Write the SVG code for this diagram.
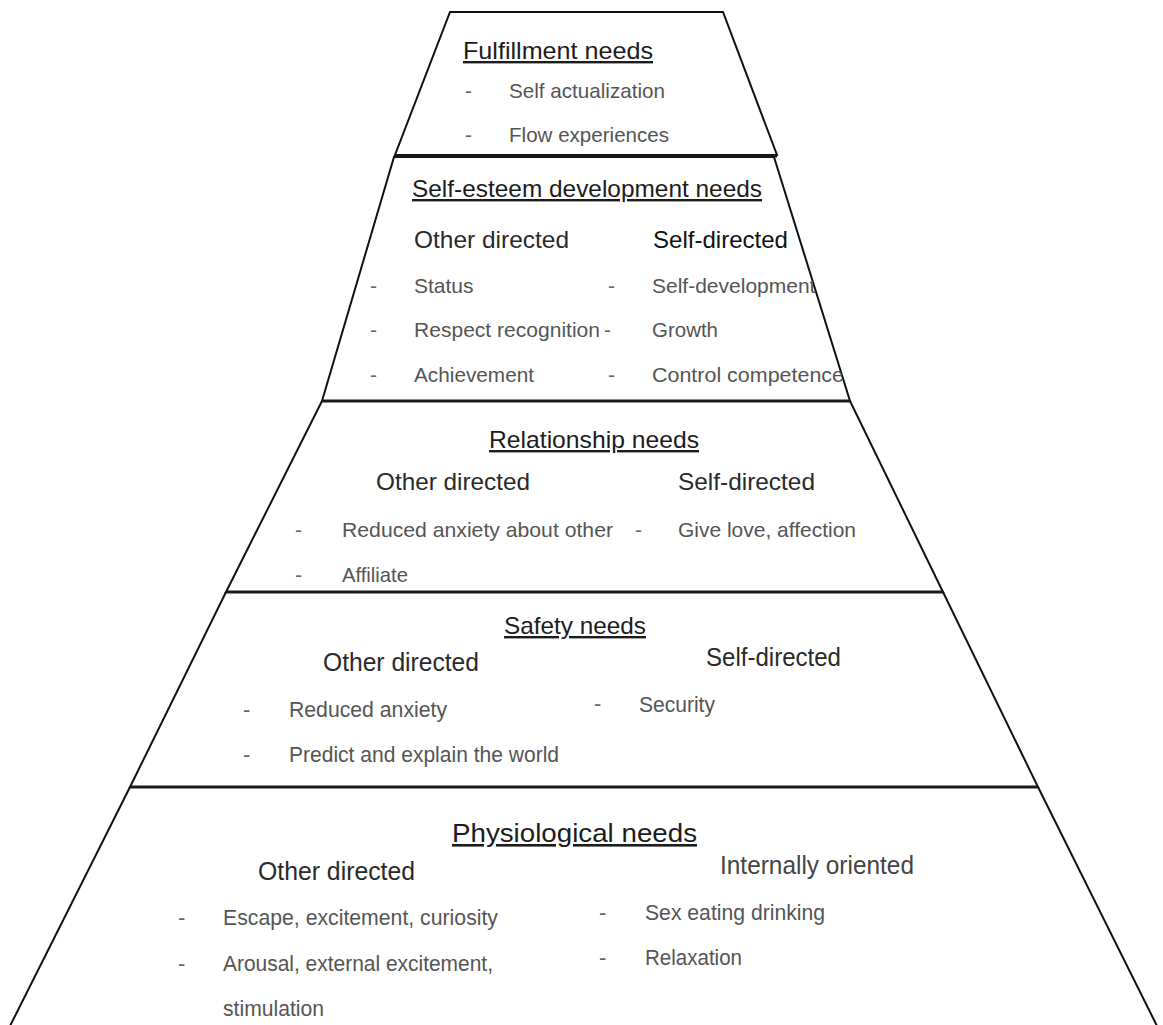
<svg xmlns="http://www.w3.org/2000/svg" width="1163" height="1025" viewBox="0 0 1163 1025">
  <style>
    text { font-family: "Liberation Sans", Arial, Helvetica, sans-serif; }
    .tier { fill: #fff; stroke: #111; stroke-width: 2; stroke-linejoin: miter; }
    .divider { stroke: #1a1a1a; stroke-width: 3; }
    .head { font-size: 24px; fill: #1c1c1c; text-decoration: underline; }
    .col { font-size: 24px; fill: #2a2a2a; }
    .col-dark { font-size: 24px; fill: #111; }
    .col-soft { font-size: 24px; fill: #444; }
    .item { font-size: 21px; fill: #555; }
    .dash { font-size: 21px; fill: #666; }
    .lower .col, .lower .col-dark, .lower .col-soft { font-size: 26px; }
    .lower .item, .lower .dash { font-size: 22px; }
  </style>
  <defs>
    <clipPath id="clip-esteem">
      <polygon points="394,157 774,157 850,401 322,401"/>
    </clipPath>
  </defs>

  <rect width="1163" height="1025" fill="#fff"/>

  <!-- Tier 1: fulfillment -->
  <g id="fulfillment">
    <polygon class="tier" points="450,12 723,12 777,155 395,155"/>
    <text class="head" x="463" y="59" textLength="190" lengthAdjust="spacingAndGlyphs">Fulfillment needs</text>
    <text class="dash" x="465" y="98">-</text>
    <text class="item" x="509" y="98" textLength="156" lengthAdjust="spacingAndGlyphs">Self actualization</text>
    <text class="dash" x="465" y="142">-</text>
    <text class="item" x="509" y="142" textLength="160" lengthAdjust="spacingAndGlyphs">Flow experiences</text>
  </g>

  <!-- Tier 2: self-esteem development -->
  <g id="self-esteem">
    <polygon class="tier" points="394,157 774,157 850,401 322,401"/>
    <g clip-path="url(#clip-esteem)">
      <text class="head" x="412" y="197" textLength="350" lengthAdjust="spacingAndGlyphs">Self-esteem development needs</text>
      <text class="col" x="414" y="248" textLength="155" lengthAdjust="spacingAndGlyphs">Other directed</text>
      <text class="col-dark" x="653" y="248" textLength="135" lengthAdjust="spacingAndGlyphs">Self-directed</text>
      <text class="dash" x="370" y="293">-</text>
      <text class="item" x="414" y="293">Status</text>
      <text class="dash" x="608" y="293">-</text>
      <text class="item" x="652" y="293">Self-development</text>
      <text class="dash" x="370" y="337">-</text>
      <text class="item" x="414" y="337" textLength="186" lengthAdjust="spacingAndGlyphs">Respect recognition</text>
      <text class="dash" x="604" y="337">-</text>
      <text class="item" x="652" y="337" textLength="66" lengthAdjust="spacingAndGlyphs">Growth</text>
      <text class="dash" x="370" y="382">-</text>
      <text class="item" x="414" y="382" textLength="120" lengthAdjust="spacingAndGlyphs">Achievement</text>
      <text class="dash" x="608" y="382">-</text>
      <text class="item" x="652" y="382" textLength="192" lengthAdjust="spacingAndGlyphs">Control competence</text>
    </g>
  </g>

  <!-- Tier 3: relationship -->
  <g id="relationship">
    <polygon class="tier" points="322,401 850,401 943,592 226,592"/>
    <text class="head" x="489" y="448" textLength="210" lengthAdjust="spacingAndGlyphs">Relationship needs</text>
    <text class="col" x="376" y="490" textLength="154" lengthAdjust="spacingAndGlyphs">Other directed</text>
    <text class="col" x="678" y="490" textLength="137" lengthAdjust="spacingAndGlyphs">Self-directed</text>
    <text class="dash" x="295" y="537">-</text>
    <text class="item" x="342" y="537" textLength="271" lengthAdjust="spacingAndGlyphs">Reduced anxiety about other</text>
    <text class="dash" x="635" y="537">-</text>
    <text class="item" x="678" y="537" textLength="178" lengthAdjust="spacingAndGlyphs">Give love, affection</text>
    <text class="dash" x="295" y="582">-</text>
    <text class="item" x="342" y="582" textLength="66" lengthAdjust="spacingAndGlyphs">Affiliate</text>
  </g>

  <!-- Tier 4: safety -->
  <g id="safety" class="lower">
    <polygon class="tier" points="226,592 943,592 1038,787 130,787"/>
    <text class="head" x="504" y="634" textLength="142" lengthAdjust="spacingAndGlyphs">Safety needs</text>
    <text class="col" x="323" y="671" textLength="156" lengthAdjust="spacingAndGlyphs">Other directed</text>
    <text class="col" x="706" y="666" textLength="135" lengthAdjust="spacingAndGlyphs">Self-directed</text>
    <text class="dash" x="243" y="717">-</text>
    <text class="item" x="289" y="717" textLength="158" lengthAdjust="spacingAndGlyphs">Reduced anxiety</text>
    <text class="dash" x="594" y="711">-</text>
    <text class="item" x="639" y="712" textLength="76" lengthAdjust="spacingAndGlyphs">Security</text>
    <text class="dash" x="243" y="762">-</text>
    <text class="item" x="289" y="762" textLength="270" lengthAdjust="spacingAndGlyphs">Predict and explain the world</text>
  </g>

  <!-- Tier 5: physiological -->
  <g id="physiological" class="lower">
    <polygon class="tier" points="130,787 1038,787 1160,1032 7,1032"/>
    <text class="head" x="452" y="842" style="font-size:26px" textLength="245" lengthAdjust="spacingAndGlyphs">Physiological needs</text>
    <text class="col" x="258" y="880" textLength="157" lengthAdjust="spacingAndGlyphs">Other directed</text>
    <text class="col-soft" x="720" y="874" textLength="194" lengthAdjust="spacingAndGlyphs">Internally oriented</text>
    <text class="dash" x="178" y="925">-</text>
    <text class="item" x="223" y="925" textLength="275" lengthAdjust="spacingAndGlyphs">Escape, excitement, curiosity</text>
    <text class="dash" x="599" y="920">-</text>
    <text class="item" x="645" y="920" textLength="180" lengthAdjust="spacingAndGlyphs">Sex eating drinking</text>
    <text class="dash" x="178" y="971">-</text>
    <text class="item" x="223" y="971" textLength="270" lengthAdjust="spacingAndGlyphs">Arousal, external excitement,</text>
    <text class="dash" x="599" y="965">-</text>
    <text class="item" x="645" y="965" textLength="97" lengthAdjust="spacingAndGlyphs">Relaxation</text>
    <text class="item" x="223" y="1016" textLength="101" lengthAdjust="spacingAndGlyphs">stimulation</text>
  </g>

  <!-- heavier horizontal rules between tiers -->
  <g id="dividers">
    <line class="divider" x1="395" y1="156" x2="777" y2="156"/>
    <line class="divider" x1="322" y1="401" x2="850" y2="401"/>
    <line class="divider" x1="226" y1="592" x2="943" y2="592"/>
    <line class="divider" x1="130" y1="787" x2="1038" y2="787"/>
  </g>
</svg>
